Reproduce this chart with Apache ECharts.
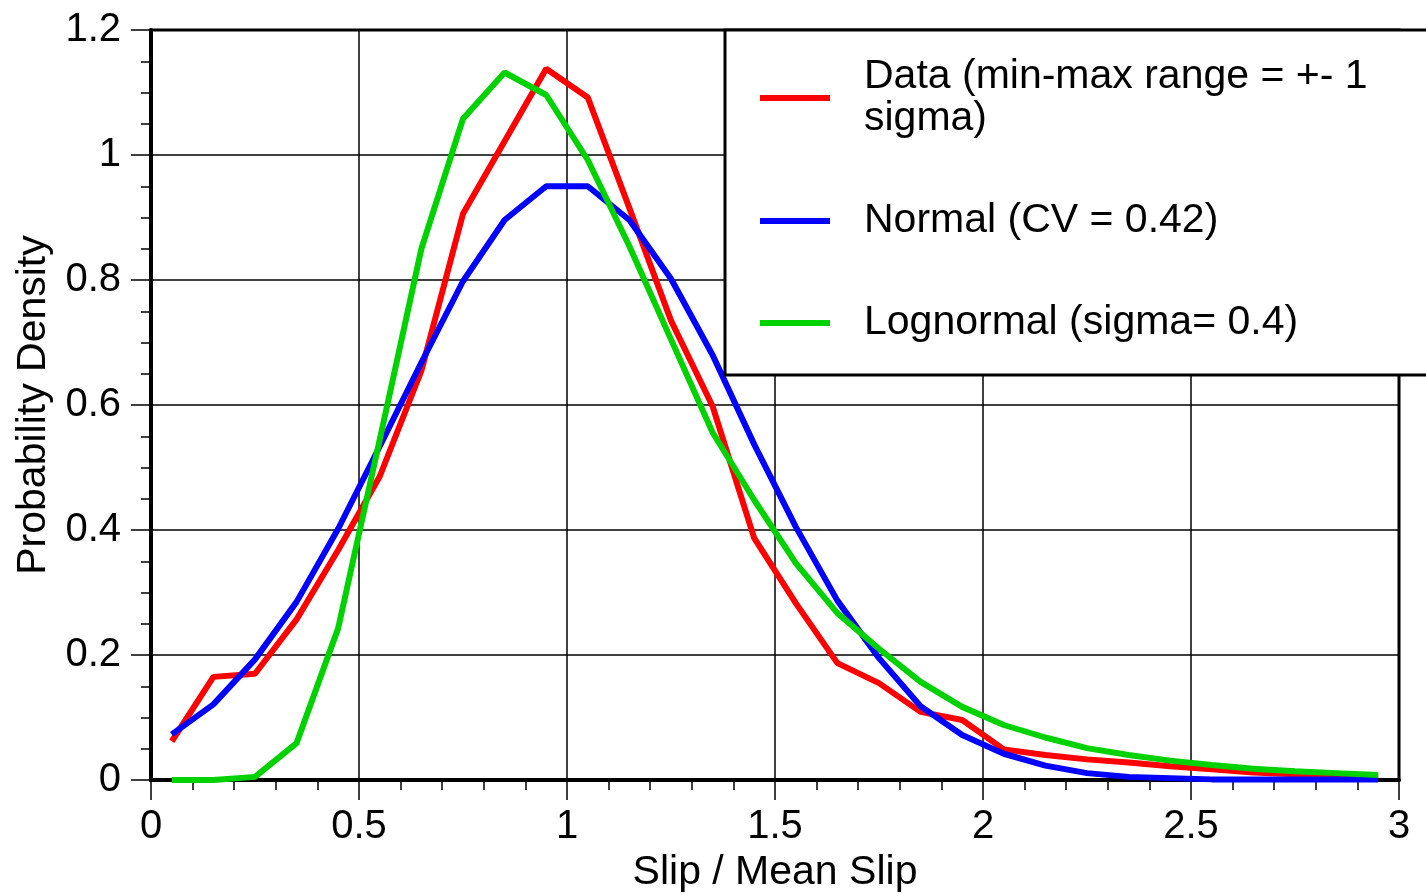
<!DOCTYPE html>
<html>
<head>
<meta charset="utf-8">
<script src="https://cdn.jsdelivr.net/npm/echarts@6/dist/echarts.min.js"></script>
<style>
  html, body { margin: 0; padding: 0; background: #fff; }
  #chart { width: 1426px; height: 896px; }
</style>
</head>
<body>
<div id="chart"></div>
<script>
const FONT = '"Liberation Sans", Arial, Helvetica, sans-serif'

// bin centres (Slip / Mean Slip)
const xs = [0.05, 0.15, 0.25, 0.35, 0.45, 0.55, 0.65, 0.75, 0.85, 0.95,
  1.05, 1.15, 1.25, 1.35, 1.45, 1.55, 1.65, 1.75, 1.85, 1.95,
  2.05, 2.15, 2.25, 2.35, 2.45, 2.55, 2.65, 2.75, 2.85, 2.95]

const dataVals = [0.062, 0.165, 0.170, 0.257, 0.368, 0.486, 0.655, 0.906, 1.022, 1.138,
  1.092, 0.915, 0.735, 0.598, 0.387, 0.283, 0.187, 0.155, 0.109, 0.096,
  0.049, 0.040, 0.033, 0.028, 0.022, 0.017, 0.012, 0.009, 0.006, 0.005]

const normalVals = [0.073, 0.121, 0.193, 0.285, 0.402, 0.534, 0.668, 0.798, 0.896, 0.950,
  0.950, 0.896, 0.802, 0.680, 0.537, 0.405, 0.287, 0.195, 0.118, 0.072,
  0.042, 0.023, 0.011, 0.005, 0.003, 0.001, 0.001, 0.001, 0.001, 0.001]

const lognormalVals = [0.000, 0.000, 0.005, 0.059, 0.243, 0.545, 0.850, 1.058, 1.132, 1.096,
  0.992, 0.854, 0.705, 0.556, 0.448, 0.347, 0.267, 0.210, 0.157, 0.117,
  0.088, 0.068, 0.051, 0.040, 0.031, 0.024, 0.018, 0.014, 0.011, 0.008]

const seriesNames = ['Data (min-max range = +- 1\nsigma)', 'Normal (CV = 0.42)', 'Lognormal (sigma= 0.4)']
const seriesColors = ['#ff0000', '#0000ff', '#00d200']
const seriesVals = [dataVals, normalVals, lognormalVals]

const chart = echarts.init(document.getElementById('chart'))

const axisCommon = {
  type: 'value',
  axisLine: { show: true, onZero: false, lineStyle: { color: '#000', width: 4 } },
  axisTick: { show: true, inside: false, length: 20, lineStyle: { color: '#000', width: 1.5 } },
  minorTick: { show: true, length: 10, lineStyle: { color: '#000', width: 1.5 } },
  splitLine: { show: true, lineStyle: { color: '#000', width: 1.5 } },
  nameLocation: 'middle',
  nameTextStyle: { fontFamily: FONT, fontSize: 41, color: '#000' },
}

const option = {
  animation: false,
  backgroundColor: '#fff',
  grid: {
    left: 151, right: 27, top: 30, bottom: 116,
    outerBoundsMode: 'none',
    show: true, borderColor: '#000', borderWidth: 3,
  },
  xAxis: {
    ...axisCommon,
    min: 0, max: 3, interval: 0.5,
    minorTick: { ...axisCommon.minorTick, splitNumber: 5 },
    name: 'Slip / Mean Slip',
    nameGap: 66,
    axisLabel: { fontFamily: FONT, fontSize: 40, color: '#000', margin: 27 },
  },
  yAxis: {
    ...axisCommon,
    min: 0, max: 1.2, interval: 0.2,
    minorTick: { ...axisCommon.minorTick, splitNumber: 4 },
    name: 'Probability Density',
    nameGap: 95,
    axisLabel: { fontFamily: FONT, fontSize: 40, color: '#000', margin: 30 },
  },
  legend: {
    show: true,
    orient: 'vertical',
    left: 725,
    top: 30,
    padding: [26, 80, 31, 35],
    itemGap: 60,
    itemWidth: 70,
    itemHeight: 6,
    icon: 'rect',
    backgroundColor: '#fff',
    borderColor: '#000',
    borderWidth: 3,
    borderRadius: 0,
    itemStyle: { borderWidth: 0 },
    data: seriesNames,
    textStyle: {
      fontFamily: FONT, fontSize: 41, color: '#000', lineHeight: 42,
      padding: [0, 0, 0, 29],
    },
  },
  series: seriesNames.map((name, i) => ({
    name,
    type: 'line',
    symbol: 'none',
    lineStyle: { color: seriesColors[i], width: 6 },
    itemStyle: { color: seriesColors[i] },
    data: xs.map((x, j) => [x, seriesVals[i][j]]),
  })),
}

chart.setOption(option)
</script>
</body>
</html>
